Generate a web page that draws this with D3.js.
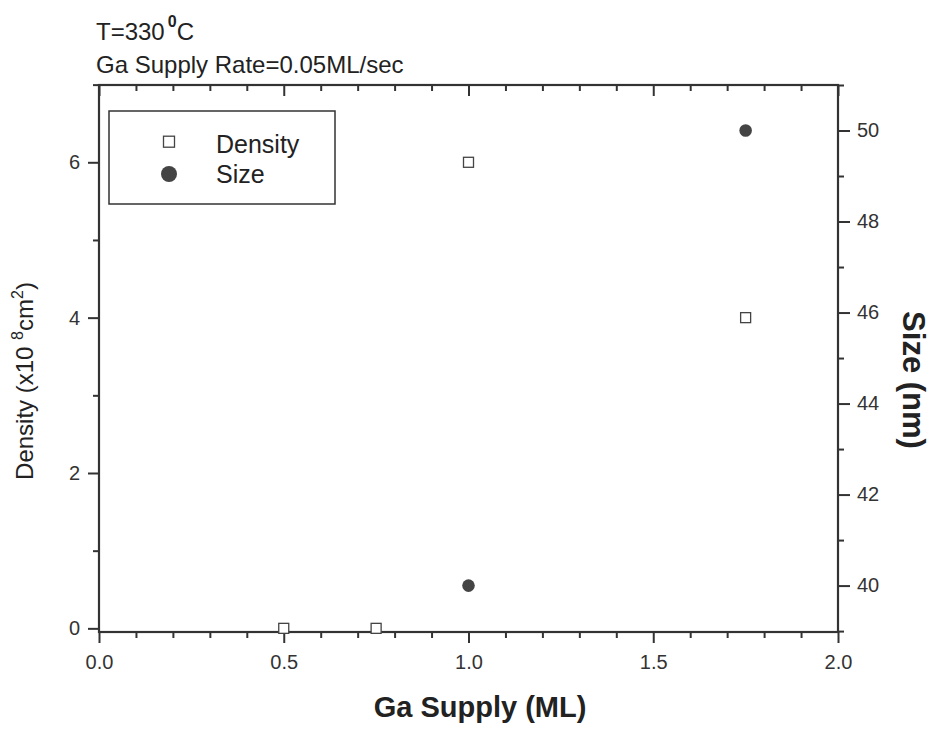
<!DOCTYPE html>
<html>
<head>
<meta charset="utf-8">
<script src="https://cdn.jsdelivr.net/npm/d3@7/dist/d3.min.js"></script>
<style>
  html, body { margin: 0; padding: 0; background: #fff; }
  svg { display: block; font-family: "Liberation Sans", Arial, sans-serif; }
</style>
</head>
<body>
<svg id="chart" width="940" height="734"></svg>
<script>
// ---- data ----
const densityX = [0.5, 0.75, 1.0, 1.75];
const densityY = [0, 0, 6, 4];
const sizeX = [1.0, 1.75];
const sizeY = [40, 50];

const xTicks = [0, 0.5, 1.0, 1.5, 2.0];
const xTickLabels = ["0.0", "0.5", "1.0", "1.5", "2.0"];
const xMinorTicks = [0.1, 0.2, 0.3, 0.4, 0.6, 0.7, 0.8, 0.9, 1.1, 1.2, 1.3, 1.4, 1.6, 1.7, 1.8, 1.9];
const leftTicks = [0, 2, 4, 6];
const leftMinorTicks = [1, 3, 5, 7];
const rightTicks = [40, 42, 44, 46, 48, 50];
const rightMinorTicks = [39, 41, 43, 45, 47, 49, 51];

const legendLabels = ["Density", "Size"];

// ---- layout ----
const svg = d3.select("#chart");
const L = 99, T = 85, R = 838, B = 632;
const ink = "#333";

const x = d3.scaleLinear().domain([0, 2]).range([L, R]);
const yL = d3.scaleLinear().domain([-0.047, 6.995]).range([B, T]);
const yR = d3.scaleLinear().domain([38.98, 51.0]).range([B, T]);

function styleAxis(g, fs) {
  g.selectAll(".domain").remove();
  g.selectAll(".tick line").attr("stroke", ink).attr("stroke-width", 2);
  g.selectAll(".tick text").attr("fill", "#333").attr("font-size", fs)
    .attr("font-family", "Liberation Sans, Arial, sans-serif");
}

// bottom axis (outward)
svg.append("g").attr("transform", `translate(0,${B})`)
  .call(d3.axisBottom(x).tickValues(xTicks).tickFormat((d, i) => xTickLabels[i]).tickSize(11).tickPadding(12))
  .call(g => styleAxis(g, 20));
svg.append("g").attr("transform", `translate(0,${B})`)
  .call(d3.axisBottom(x).tickValues(xMinorTicks).tickFormat("").tickSize(6))
  .call(g => styleAxis(g, 20));
// top axis (inward)
svg.append("g").attr("transform", `translate(0,${T})`)
  .call(d3.axisTop(x).tickValues(xTicks).tickFormat("").tickSize(-11))
  .call(g => styleAxis(g, 20));
svg.append("g").attr("transform", `translate(0,${T})`)
  .call(d3.axisTop(x).tickValues(xMinorTicks).tickFormat("").tickSize(-6))
  .call(g => styleAxis(g, 20));
// left axis
svg.append("g").attr("transform", `translate(${L},0)`)
  .call(d3.axisLeft(yL).tickValues(leftTicks).tickFormat(d3.format("d")).tickSize(11).tickPadding(8))
  .call(g => styleAxis(g, 20));
svg.append("g").attr("transform", `translate(${L},0)`)
  .call(d3.axisLeft(yL).tickValues(leftMinorTicks).tickFormat("").tickSize(6))
  .call(g => styleAxis(g, 20));
// right axis
svg.append("g").attr("transform", `translate(${R},0)`)
  .call(d3.axisRight(yR).tickValues(rightTicks).tickFormat(d3.format("d")).tickSize(12).tickPadding(7))
  .call(g => styleAxis(g, 20));
svg.append("g").attr("transform", `translate(${R},0)`)
  .call(d3.axisRight(yR).tickValues(rightMinorTicks).tickFormat("").tickSize(6))
  .call(g => styleAxis(g, 20));

// frame
svg.append("rect").attr("x", L).attr("y", T).attr("width", R - L).attr("height", B - T)
  .attr("fill", "none").attr("stroke", ink).attr("stroke-width", 2.2);

// ---- marks ----
const sq = 10;
svg.append("g").selectAll("rect").data(densityX.map((d, i) => [d, densityY[i]])).join("rect")
  .attr("x", d => x(d[0]) - sq / 2).attr("y", d => yL(d[1]) - sq / 2)
  .attr("width", sq).attr("height", sq)
  .attr("fill", "#fff").attr("stroke", "#444").attr("stroke-width", 1.3);

svg.append("g").selectAll("circle").data(sizeX.map((d, i) => [d, sizeY[i]])).join("circle")
  .attr("cx", d => x(d[0])).attr("cy", d => yR(d[1])).attr("r", 6.3)
  .attr("fill", "#444");

// ---- legend ----
const lg = svg.append("g");
lg.append("rect").attr("x", 109).attr("y", 111).attr("width", 226).attr("height", 93)
  .attr("fill", "#fff").attr("stroke", ink).attr("stroke-width", 1.5);
lg.append("rect").attr("x", 169 - 5.5).attr("y", 141.7 - 5.5).attr("width", 11).attr("height", 11)
  .attr("fill", "#fff").attr("stroke", "#444").attr("stroke-width", 1.3);
lg.append("circle").attr("cx", 169).attr("cy", 174).attr("r", 8).attr("fill", "#444");
lg.selectAll("text").data(legendLabels).join("text")
  .attr("x", 216).attr("y", (d, i) => [153, 183][i])
  .attr("font-size", 25).attr("fill", "#222").text(d => d);

// ---- titles ----
const t1 = svg.append("text").attr("x", 96).attr("y", 40).attr("font-size", 24).attr("fill", "#222");
t1.append("tspan").text("T=330");
t1.append("tspan").attr("dx", 3).attr("dy", -13).attr("font-size", 16).attr("font-weight", "bold").text("0");
t1.append("tspan").attr("dy", 13).text("C");

svg.append("text").attr("x", 96).attr("y", 73).attr("font-size", 24).attr("fill", "#222")
  .text("Ga Supply Rate=0.05ML/sec");

svg.append("text").attr("x", 480).attr("y", 717).attr("text-anchor", "middle")
  .attr("font-size", 29).attr("font-weight", "bold").attr("fill", "#222")
  .text("Ga Supply (ML)");

const lt = svg.append("text").attr("transform", "translate(33,381) rotate(-90)")
  .attr("text-anchor", "middle").attr("font-size", 24).attr("fill", "#222");
lt.append("tspan").text("Density (x10 ");
lt.append("tspan").attr("dy", -10).attr("font-size", 16).text("8");
lt.append("tspan").attr("dy", 10).text("cm");
lt.append("tspan").attr("dy", -10).attr("font-size", 16).text("2");
lt.append("tspan").attr("dy", 10).text(")");

svg.append("text").attr("transform", "translate(903,380) rotate(90)")
  .attr("text-anchor", "middle").attr("font-size", 31).attr("font-weight", "bold").attr("fill", "#222")
  .text("Size (nm)");
</script>
</body>
</html>
